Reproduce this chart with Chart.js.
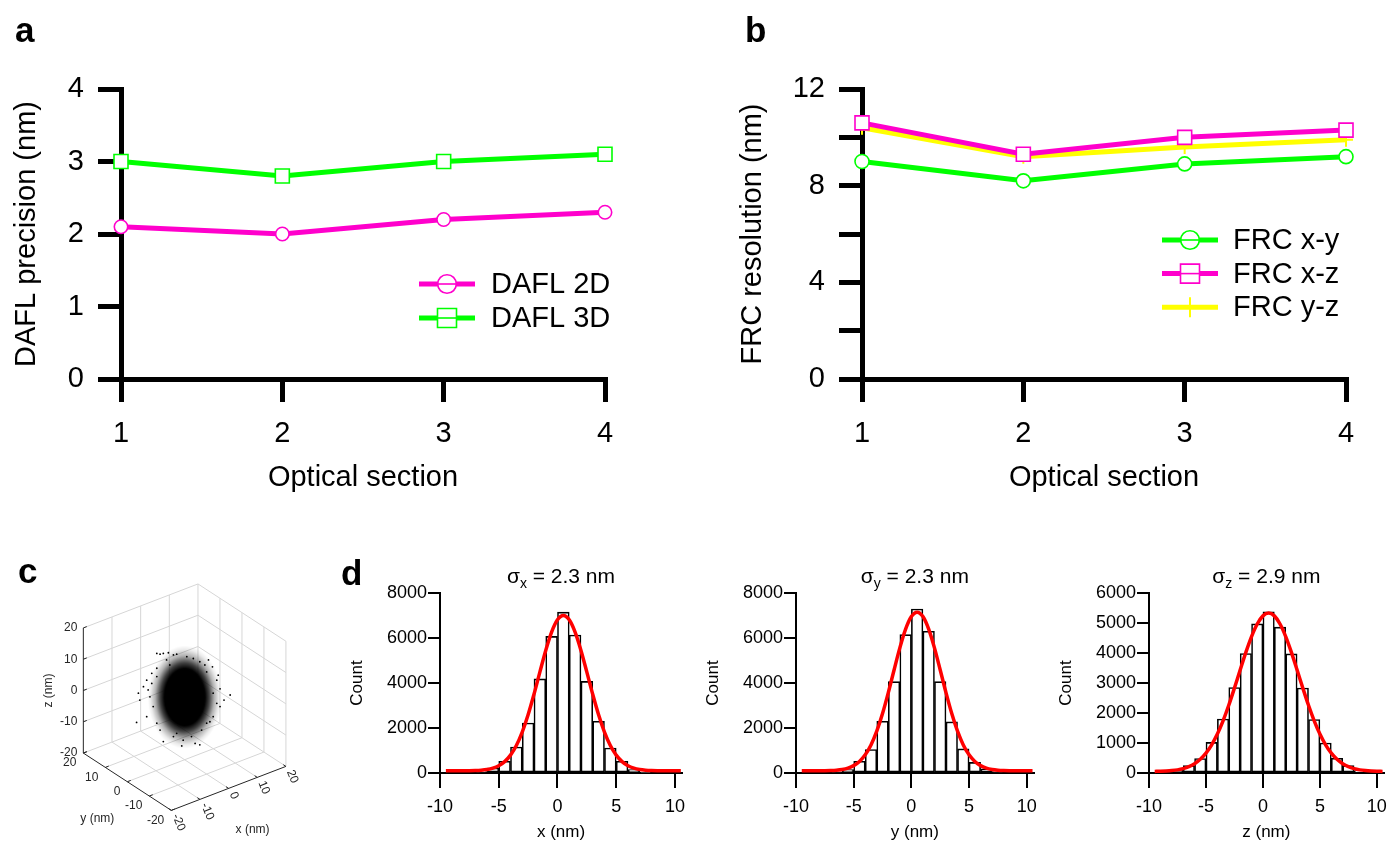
<!DOCTYPE html>
<html>
<head>
<meta charset="utf-8">
<title>DAFL precision, FRC resolution and localisation histograms</title>
<script src="https://cdn.jsdelivr.net/npm/chart.js@4.4.1/dist/chart.umd.min.js"></script>
<style>
  html, body { margin:0; padding:0; background:#fff; }
  body { position:relative; width:1395px; height:843px; overflow:hidden; font-family:'Liberation Sans', Arial, sans-serif; }
  canvas { position:absolute; display:block; }
  .tag { position:absolute; font-weight:bold; font-size:35px; line-height:35px; color:#000; }
</style>
</head>
<body>
<canvas id="chartA" width="700" height="520" style="left:0;top:0"></canvas>
<canvas id="chartB" width="675" height="520" style="left:720px;top:0"></canvas>
<canvas id="chartC" width="330" height="283" style="left:0;top:560px"></canvas>
<canvas id="chartD1" width="355" height="288" style="left:340px;top:555px"></canvas>
<canvas id="chartD2" width="345" height="288" style="left:700px;top:555px"></canvas>
<canvas id="chartD3" width="350" height="288" style="left:1045px;top:555px"></canvas>
<div class="tag" style="left:15px;top:12px">a</div>
<div class="tag" style="left:745px;top:12px">b</div>
<div class="tag" style="left:18px;top:553px">c</div>
<div class="tag" style="left:341px;top:555px">d</div>
<script>
// ---------------- data ----------------
const sections = [1, 2, 3, 4];
const sectionLabels = ['1', '2', '3', '4'];

const daflTicks = [0, 1, 2, 3, 4];
const daflTickLabels = ['0', '1', '2', '3', '4'];
const dafl2D = [2.1, 2.0, 2.2, 2.3];
const dafl3D = [3.0, 2.8, 3.0, 3.1];

const frcTicks = [0, 2, 4, 6, 8, 10, 12];
const frcTickLabels = ['0', '', '4', '', '8', '', '12'];
const frcXY = [9.0, 8.2, 8.9, 9.2];
const frcXZ = [10.6, 9.3, 10.0, 10.3];
const frcYZ = [10.4, 9.2, 9.6, 9.9];

// panel c: 3D localisation cloud
const cTicks = [-20, -10, 0, 10, 20];
const cTickLabels = ['-20', '-10', '0', '10', '20'];
const cloudCenter = [0, 0, 0];
// sparse outlying localisations, projected view coordinates (nm)
const strayDots = [
  [-7.7, 12.1], [-6.8, 11.9], [-5.9, 12.1], [-4.5, 12.3], [-3.1, 11.7], [-2.2, 11.9],
  [6.6, 10.3], [7.7, 8.4], [9.3, 6.1], [8.9, 4.7], [9.8, 2.3], [12.6, 0.6],
  [10.9, -0.8], [9.8, -2.6], [7.9, -5.4], [6.1, -7.2], [4.7, -9.1], [4.2, -13.2],
  [-0.4, -11.9], [-0.8, -13.5], [-3.1, -10.9], [-5.9, -12.3], [-7.7, -7.2], [-10.5, -5.4],
  [-13.3, -7.0], [-12.4, -0.8], [-12.8, 1.1], [-11.4, 2.9], [-10.5, 4.7], [-9.1, 6.6],
  [-7.7, 8.0], [0.6, 11.2], [2.4, 10.7], [4.2, 9.8], [5.6, 8.9], [-5.0, 10.3],
  [-4.1, 8.9], [7.9, 1.1], [8.9, -1.7], [7.0, -6.8], [1.9, -10.9], [-2.2, -10.0],
  [-8.7, -2.6], [-9.6, 0.1], [-10.1, 2.0], [-6.8, -9.1], [2.9, -12.8], [6.1, 7.0],
  [-7.7, 5.7], [-9.1, 3.8]
];

// panel d: histograms (1 nm bins) and Gaussian fits
const histTicks = [-10, -5, 0, 5, 10];
const histTickLabels = ['-10', '-5', '0', '5', '10'];
const binsXY = [-6.5, -5.5, -4.5, -3.5, -2.5, -1.5, -0.5, 0.5, 1.5, 2.5, 3.5, 4.5, 5.5, 6.5, 7.5];
const countsX = [60, 220, 520, 1155, 2220, 4180, 6070, 7150, 6130, 4070, 2300, 1110, 520, 150, 40];
const countsY = [50, 150, 520, 1040, 2300, 4060, 6150, 7290, 6300, 4060, 2270, 1070, 470, 180, 60];
const binsZ = [-8.5, -7.5, -6.5, -5.5, -4.5, -3.5, -2.5, -1.5, -0.5, 0.5, 1.5, 2.5, 3.5, 4.5, 5.5, 6.5, 7.5, 8.5];
const countsZ = [40, 110, 245, 480, 1020, 1800, 2850, 3980, 4970, 5370, 4860, 3970, 2830, 1780, 1000, 490, 245, 80];
const fitX = [-9.5, -9, -8.5, -8, -7.5, -7, -6.5, -6, -5.5, -5, -4.5, -4, -3.5, -3, -2.5, -2, -1.5, -1, -0.5, 0,
  0.5, 1, 1.5, 2, 2.5, 3, 3.5, 4, 4.5, 5, 5.5, 6, 6.5, 7, 7.5, 8, 8.5, 9, 9.5, 10, 10.5];
const fitCountX = [100, 100, 101, 102, 105, 112, 127, 157, 216, 324, 505, 795, 1225, 1821, 2587, 3497, 4484, 5446, 6260, 6807,
  7000, 6807, 6260, 5446, 4484, 3497, 2587, 1821, 1225, 795, 505, 324, 216, 157, 127, 112, 105, 102, 101, 100, 100];
const fitCountY = [100, 100, 101, 102, 105, 112, 127, 159, 219, 328, 514, 810, 1249, 1858, 2641, 3571, 4580, 5562, 6394, 6953,
  7150, 6953, 6394, 5562, 4580, 3571, 2641, 1858, 1249, 810, 514, 328, 219, 159, 127, 112, 105, 102, 101, 100, 100];
const fitCountZ = [54, 59, 67, 81, 105, 146, 211, 311, 457, 662, 940, 1299, 1740, 2257, 2832, 3433, 4022, 4549, 4967, 5237,
  5330, 5237, 4967, 4549, 4022, 3433, 2832, 2257, 1740, 1299, 940, 662, 457, 311, 211, 146, 105, 81, 67, 59, 54];
const countTicksXY = [0, 2000, 4000, 6000, 8000];
const countTicksZ = [0, 1000, 2000, 3000, 4000, 5000, 6000];

// ---------------- style ----------------
const FONT = "'Liberation Sans', Arial, Helvetica, sans-serif";
Chart.defaults.font.family = FONT;
Chart.defaults.color = '#000';
const MAGENTA = '#ff00cc', GREEN = '#00ff00', YELLOW = '#ffff00';

const pts = (xs, ys) => xs.map((x, i) => ({ x, y: ys[i] }));

function seriesDS(label, xs, ys, color, style, r, order) {
  return {
    label, data: pts(xs, ys), borderColor: color, backgroundColor: color, borderWidth: 5,
    pointStyle: style, pointRadius: r, pointHoverRadius: r, pointBorderColor: color,
    pointBackgroundColor: '#ffffff', pointBorderWidth: style === 'cross' ? 2 : 1.6,
    tension: 0, clip: false, order
  };
}

const inlineLegend = {
  id: 'inlineLegend',
  afterDraw(chart, args, o) {
    const ctx = chart.ctx;
    chart.data.datasets.forEach((ds, i) => {
      const y = o.y0 + i * o.dy, cx = (o.x1 + o.x2) / 2;
      ctx.save();
      ctx.strokeStyle = ds.borderColor; ctx.lineWidth = ds.borderWidth; ctx.lineCap = 'butt';
      ctx.beginPath(); ctx.moveTo(o.x1, y); ctx.lineTo(o.x2, y); ctx.stroke();
      if (ds.pointStyle === 'cross') {
        ctx.lineWidth = 2;
        ctx.beginPath(); ctx.moveTo(cx, y - o.crossH); ctx.lineTo(cx, y + o.crossH); ctx.stroke();
      } else {
        ctx.beginPath();
        if (ds.pointStyle === 'circle') ctx.arc(cx, y, o.circleR, 0, Math.PI * 2);
        else ctx.rect(cx - o.rectH, y - o.rectH, 2 * o.rectH, 2 * o.rectH);
        ctx.fillStyle = '#ffffff'; ctx.fill();
        ctx.lineWidth = 1.6; ctx.stroke();
        ctx.beginPath(); ctx.moveTo(cx - o.rectH, y); ctx.lineTo(cx + o.rectH, y); ctx.stroke();
      }
      ctx.fillStyle = '#000'; ctx.font = o.fontSize + 'px ' + FONT;
      ctx.textAlign = 'left'; ctx.textBaseline = 'middle';
      ctx.fillText(ds.label, o.tx, y + 1);
      ctx.restore();
    });
  }
};

function sectionScales(yTicks, yLabels, yTitle, yWidth, yTitlePad) {
  const grid = { drawOnChartArea: false, drawTicks: true, tickLength: 23, tickWidth: 5, lineWidth: 5, tickColor: '#000', color: '#000' };
  const border = { display: true, width: 5, color: '#000' };
  return {
    x: {
      type: 'linear', min: sections[0], max: sections[sections.length - 1],
      afterBuildTicks: s => { s.ticks = sections.map(v => ({ value: v })); },
      afterFit: s => { s.height = 141; },
      grid, border,
      ticks: { font: { size: 29 }, color: '#000', padding: 15, autoSkip: false, maxRotation: 0, callback: (v, i) => sectionLabels[i] },
      title: { display: true, text: 'Optical section', font: { size: 29 }, color: '#000', padding: { top: 0, bottom: 25 } }
    },
    y: {
      type: 'linear', min: yTicks[0], max: yTicks[yTicks.length - 1],
      afterBuildTicks: s => { s.ticks = yTicks.map(v => ({ value: v })); },
      afterFit: s => { s.width = yWidth; },
      grid, border,
      ticks: { font: { size: 29 }, color: '#000', padding: 14, callback: (v, i) => yLabels[i] },
      title: { display: true, text: yTitle, font: { size: 29 }, color: '#000', padding: { top: yTitlePad, bottom: 0 } }
    }
  };
}

// ---------------- panel a ----------------
new Chart(document.getElementById('chartA'), {
  type: 'line',
  data: { datasets: [
    seriesDS('DAFL 2D', sections, dafl2D, MAGENTA, 'circle', 6.7, 0),
    seriesDS('DAFL 3D', sections, dafl3D, GREEN, 'rect', 9.9, 1)
  ]},
  options: {
    responsive: false, animation: false, events: [],
    layout: { padding: { left: 0, top: 89, right: 95, bottom: 0 } },
    plugins: {
      legend: { display: false }, tooltip: { enabled: false },
      inlineLegend: { x1: 419, x2: 475, tx: 491, y0: 284, dy: 34, circleR: 9.3, rectH: 9.5, crossH: 10, fontSize: 29 }
    },
    scales: sectionScales(daflTicks, daflTickLabels, 'DAFL precision (nm)', 121, 10)
  },
  plugins: [inlineLegend]
});

// ---------------- panel b ----------------
new Chart(document.getElementById('chartB'), {
  type: 'line',
  data: { datasets: [
    seriesDS('FRC x-y', sections, frcXY, GREEN, 'circle', 7, 2),
    seriesDS('FRC x-z', sections, frcXZ, MAGENTA, 'rect', 9.9, 0),
    seriesDS('FRC y-z', sections, frcYZ, YELLOW, 'cross', 7, 1)
  ]},
  options: {
    responsive: false, animation: false, events: [],
    layout: { padding: { left: 0, top: 89, right: 49, bottom: 0 } },
    plugins: {
      legend: { display: false }, tooltip: { enabled: false },
      inlineLegend: { x1: 442, x2: 498, tx: 513, y0: 240, dy: 33.6, circleR: 9.3, rectH: 9.5, crossH: 10, fontSize: 29 }
    },
    scales: sectionScales(frcTicks, frcTickLabels, 'FRC resolution (nm)', 142, 15.6)
  },
  plugins: [inlineLegend]
});

// ---------------- panel c ----------------
const VIEW_AZ = 37.5, VIEW_EL = 30;
function proj(x, y, z) {
  const a = VIEW_AZ * Math.PI / 180, e = VIEW_EL * Math.PI / 180;
  return { x: x * Math.cos(a) - y * Math.sin(a), y: (x * Math.sin(a) + y * Math.cos(a)) * Math.sin(e) + z * Math.cos(e) };
}
const LO = cTicks[0], HI = cTicks[cTicks.length - 1];
const gridPts = [], axisPts = [];
const seg = (arr, p, q) => { arr.push(proj(...p), proj(...q), { x: null, y: null }); };
cTicks.forEach(t => {
  if (t !== LO) {
    seg(gridPts, [t, LO, LO], [t, HI, LO]);
    seg(gridPts, [LO, t, LO], [HI, t, LO]);
    seg(gridPts, [t, HI, LO], [t, HI, HI]);
    seg(gridPts, [LO, HI, t], [HI, HI, t]);
    seg(gridPts, [HI, LO, t], [HI, HI, t]);
  }
  if (t !== HI) seg(gridPts, [HI, t, LO], [HI, t, HI]);
});
seg(axisPts, [LO, HI, LO], [LO, HI, HI]);
seg(axisPts, [LO, LO, LO], [LO, HI, LO]);
seg(axisPts, [LO, LO, LO], [HI, LO, LO]);
const TL = 1.2;
cTicks.forEach(t => {
  seg(axisPts, [LO, HI, t], [LO + TL, HI, t]);
  seg(axisPts, [LO, t, LO], [LO + TL, t, LO]);
  seg(axisPts, [t, LO, LO], [t, LO + TL, LO]);
});

const cloudImg = document.createElement('canvas');
cloudImg.width = 80; cloudImg.height = 108;
(function () {
  const g = cloudImg.getContext('2d');
  g.translate(40, 54); g.scale(1, 1.4);
  const grad = g.createRadialGradient(0, 0, 0, 0, 0, 37);
  grad.addColorStop(0, 'rgba(0,0,0,1)');
  grad.addColorStop(0.55, 'rgba(0,0,0,1)');
  grad.addColorStop(0.66, 'rgba(0,0,0,0.75)');
  grad.addColorStop(0.8, 'rgba(0,0,0,0.3)');
  grad.addColorStop(0.92, 'rgba(0,0,0,0.08)');
  grad.addColorStop(1, 'rgba(0,0,0,0)');
  g.fillStyle = grad; g.beginPath(); g.arc(0, 0, 37, 0, Math.PI * 2); g.fill();
})();

const cLabels = {
  id: 'cLabels',
  afterDatasetsDraw(chart) {
    const { ctx } = chart; const sx = chart.scales.x, sy = chart.scales.y;
    const pix = p => [sx.getPixelForValue(p.x), sy.getPixelForValue(p.y)];
    ctx.save();
    ctx.fillStyle = '#262626'; ctx.font = '12px ' + FONT;
    cTicks.forEach((t, i) => {
      let [px, py] = pix(proj(LO, HI, t));
      ctx.textAlign = 'right'; ctx.textBaseline = 'middle';
      ctx.fillText(cTickLabels[i], px - 6, py);
      [px, py] = pix(proj(LO, t, LO));
      ctx.fillText(cTickLabels[i], px - 7, py + 10);
      [px, py] = pix(proj(t, LO, LO));
      ctx.save(); ctx.translate(px + 4, py + 4); ctx.rotate(68 * Math.PI / 180);
      ctx.textAlign = 'left'; ctx.fillText(cTickLabels[i], 0, 0); ctx.restore();
    });
    ctx.textAlign = 'center'; ctx.textBaseline = 'middle';
    let [px, py] = pix(proj(LO, HI, 0));
    ctx.save(); ctx.translate(px - 35, py); ctx.rotate(-Math.PI / 2); ctx.fillText('z (nm)', 0, 0); ctx.restore();
    [px, py] = pix(proj(LO, 0, LO));
    ctx.fillText('y (nm)', px - 30, py + 37);
    [px, py] = pix(proj(0, LO, LO));
    ctx.fillText('x (nm)', px + 24, py + 41);
    ctx.restore();
  }
};

new Chart(document.getElementById('chartC'), {
  type: 'scatter',
  data: { datasets: [
    { data: gridPts, showLine: true, borderColor: '#d6d6d6', borderWidth: 1, pointRadius: 0, spanGaps: false, order: 3 },
    { data: axisPts, showLine: true, borderColor: '#262626', borderWidth: 1, pointRadius: 0, spanGaps: false, order: 2 },
    { data: [proj(...cloudCenter)], pointStyle: cloudImg, pointRadius: 10, order: 1 },
    { data: strayDots.map(([u, v]) => ({ x: u, y: v })), pointRadius: 0.9, pointBackgroundColor: '#000', pointBorderWidth: 0, order: 0 }
  ]},
  options: {
    responsive: false, animation: false, events: [],
    layout: { padding: 0, autoPadding: false },
    plugins: { legend: { display: false }, tooltip: { enabled: false } },
    scales: {
      x: { type: 'linear', min: -51.11, max: 40.24, display: false },
      y: { type: 'linear', min: -40.37, max: 37.97, display: false }
    }
  },
  plugins: [cLabels]
});

// ---------------- panel d ----------------
const sigmaTitle = {
  id: 'sigmaTitle',
  afterDraw(chart, args, o) {
    const { ctx, chartArea } = chart;
    const cx = (chartArea.left + chartArea.right) / 2, y = chartArea.top - o.dy;
    const big = o.size + 'px ' + FONT, small = o.subSize + 'px ' + FONT;
    ctx.save(); ctx.fillStyle = '#000'; ctx.textBaseline = 'alphabetic'; ctx.textAlign = 'left';
    ctx.font = big; const w1 = ctx.measureText('σ').width, w3 = ctx.measureText(o.rest).width;
    ctx.font = small; const w2 = ctx.measureText(o.sub).width;
    let x = cx - (w1 + w2 + w3) / 2;
    ctx.font = big; ctx.fillText('σ', x, y); x += w1;
    ctx.font = small; ctx.fillText(o.sub, x, y + o.subDrop); x += w2;
    ctx.font = big; ctx.fillText(o.rest, x, y);
    ctx.restore();
  }
};

function makeHist(id, o) {
  const grid = { offset: false, drawOnChartArea: false, drawTicks: true, tickWidth: 2, lineWidth: 2, tickColor: '#000', color: '#000' };
  const border = { display: true, width: 2, color: '#000' };
  return new Chart(document.getElementById(id), {
    type: 'bar',
    data: { datasets: [
      { type: 'line', data: pts(fitX, o.fit), borderColor: '#ff0000', borderWidth: 3.5, pointRadius: 0,
        cubicInterpolationMode: 'monotone', fill: false, order: 0, clip: false },
      { type: 'bar', data: pts(o.bins, o.counts), backgroundColor: '#ffffff', borderColor: '#000000', borderWidth: 1.6,
        borderSkipped: false, barPercentage: 1, categoryPercentage: 1, order: 1 }
    ]},
    options: {
      responsive: false, animation: false, events: [],
      layout: { padding: { left: 0, top: 38, right: o.padRight, bottom: 0 } },
      plugins: {
        legend: { display: false }, tooltip: { enabled: false },
        sigmaTitle: { sub: o.sub, rest: o.rest, size: 21, subSize: 14, subDrop: 5, dy: 10.5 }
      },
      scales: {
        x: {
          type: 'linear', min: -10, max: 10.6, offset: false,
          afterBuildTicks: s => { s.ticks = histTicks.map(v => ({ value: v })); },
          afterFit: s => { s.height = 70; },
          grid: Object.assign({ tickLength: 15 }, grid), border,
          ticks: { font: { size: 18 }, color: '#000', padding: 8, autoSkip: false, maxRotation: 0, callback: (v, i) => histTickLabels[i] },
          title: { display: true, text: o.xTitle, font: { size: 17 }, color: '#000', padding: { top: 0, bottom: 0 } }
        },
        y: {
          type: 'linear', min: 0, max: o.yTicks[o.yTicks.length - 1],
          afterBuildTicks: s => { s.ticks = o.yTicks.map(v => ({ value: v })); },
          afterFit: s => { s.width = o.yWidth; },
          grid: Object.assign({ tickLength: 12 }, grid), border,
          ticks: { font: { size: 18 }, color: '#000', padding: 1, callback: v => String(v) },
          title: { display: true, text: 'Count', font: { size: 17 }, color: '#000', padding: { top: o.titlePad, bottom: 0 } }
        }
      }
    },
    plugins: [sigmaTitle]
  });
}

makeHist('chartD1', { bins: binsXY, counts: countsX, fit: fitCountX, yTicks: countTicksXY, sub: 'x', rest: ' = 2.3 nm',
  xTitle: 'x (nm)', yWidth: 100, padRight: 13, titlePad: 6.8 });
makeHist('chartD2', { bins: binsXY, counts: countsY, fit: fitCountY, yTicks: countTicksXY, sub: 'y', rest: ' = 2.3 nm',
  xTitle: 'y (nm)', yWidth: 96, padRight: 8, titlePad: 2.8 });
makeHist('chartD3', { bins: binsZ, counts: countsZ, fit: fitCountZ, yTicks: countTicksZ, sub: 'z', rest: ' = 2.9 nm',
  xTitle: 'z (nm)', yWidth: 104, padRight: 4, titlePad: 10.8 });
</script>
</body>
</html>
